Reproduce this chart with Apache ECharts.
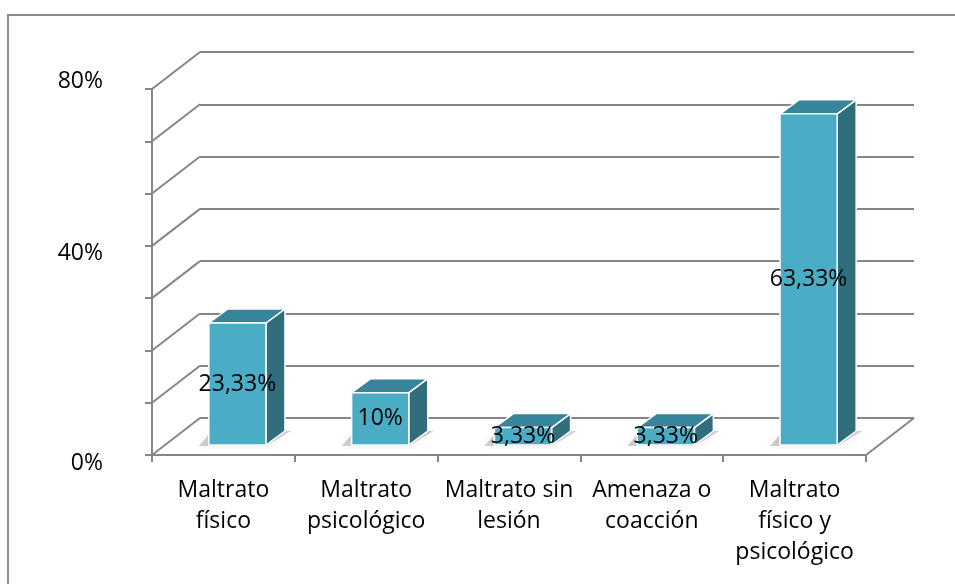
<!DOCTYPE html>
<html>
<head>
<meta charset="utf-8">
<title>Tipo de maltrato</title>
<script src="https://cdn.jsdelivr.net/npm/echarts@6/dist/echarts.min.js"></script>
<style>
html,body{margin:0;padding:0;background:#fff;}
#chart{width:955px;height:584px;}
</style>
</head>
<body>
<div id="chart"></div>
<script>
// datos del grafico
var categories = ['Maltrato\nfísico', 'Maltrato\npsicológico', 'Maltrato sin\nlesión', 'Amenaza o\ncoacción', 'Maltrato\nfísico y\npsicológico'];
var values = [23.33, 10, 3.33, 3.33, 63.33];
var valueLabels = ['23,33%', '10%', '3,33%', '3,33%', '63,33%'];
var yTicks = [0, 10, 20, 30, 40, 50, 60, 70];
var yLabelValues = [0, 40, 70];
var yLabelTexts = ['0%', '40%', '80%'];

// efecto 3D (pixeles)
var DEPTH = [48, -37];      // fondo de la pared
var FACE = [14, -10];       // cara frontal de la barra
var SIDE = [19, -14];       // profundidad de la barra
var BAR_RATIO = 0.40;
var GRAY = '#868686';
var FONT = '"Open Sans", "Liberation Sans", sans-serif';

var myChart = echarts.init(document.getElementById('chart'));

// lineas diagonales de la pared izquierda y del suelo
function renderDiag(params, api){
	var v = api.value(1);
	var band = api.size([1, 0])[0];
	var p = api.coord([0, v]);
	var x = p[0] - band / 2;
	var style = {stroke: GRAY, lineWidth: 2};
	var children = [{
		type: 'line',
		shape: {x1: x, y1: p[1], x2: x + DEPTH[0], y2: p[1] + DEPTH[1]},
		style: style
	}];
	if(v === 0){
		var xr = api.coord([categories.length - 1, 0])[0] + band / 2;
		children.push({
			type: 'line',
			shape: {x1: xr, y1: p[1], x2: xr + DEPTH[0], y2: p[1] + DEPTH[1]},
			style: style
		});
	}
	return {type: 'group', children: children};
}

// barras 3D
function renderBar(params, api){
	var cat = api.value(0);
	var val = api.value(1);
	var band = api.size([1, 0])[0];
	var base = api.coord([cat, 0]);
	var top = api.coord([cat, val]);
	var w = band * BAR_RATIO;
	var x0 = base[0] - w / 2 + FACE[0];
	var x1 = x0 + w;
	var yb = base[1] + FACE[1];
	var yt = top[1] + FACE[1];
	var edge = {stroke: '#ffffff', lineWidth: 1.5, lineJoin: 'round'};
	return {
		type: 'group',
		children: [
			{
				type: 'polygon',
				shape: {points: [[x0 - 10, yb + 1], [x1, yb + 1], [x1 + SIDE[0] + 6, yb + SIDE[1]], [x0 + SIDE[0] - 16, yb + SIDE[1]]]},
				style: {fill: 'rgba(0,0,0,0.18)', shadowBlur: 10, shadowColor: 'rgba(0,0,0,0.35)'}
			},
			{
				type: 'polygon',
				shape: {points: [[x1, yt], [x1 + SIDE[0], yt + SIDE[1]], [x1 + SIDE[0], yb + SIDE[1]], [x1, yb]]},
				style: echarts.util.extend({fill: '#306e7e'}, edge)
			},
			{
				type: 'polygon',
				shape: {points: [[x0, yt], [x1, yt], [x1 + SIDE[0], yt + SIDE[1]], [x0 + SIDE[0], yt + SIDE[1]]]},
				style: echarts.util.extend({fill: '#36859a'}, edge)
			},
			{
				type: 'rect',
				shape: {x: x0, y: yt, width: w, height: yb - yt},
				style: echarts.util.extend({fill: '#4bacc6'}, edge)
			},
			{
				type: 'text',
				style: {
					text: valueLabels[params.dataIndex],
					x: (x0 + x1) / 2,
					y: (yt + yb) / 2,
					align: 'center',
					verticalAlign: 'middle',
					fill: '#000',
					fontSize: 23,
					fontFamily: FONT
				}
			}
		]
	};
}

var option = {
	backgroundColor: '#ffffff',
	animation: false,
	graphic: [{
		type: 'rect',
		z: -10,
		shape: {x: 8, y: 15, width: 1000, height: 1000},
		style: {fill: 'none', stroke: '#8b8b8b', lineWidth: 2}
	}],
	grid: [
		{left: 152, top: 89, width: 714, height: 366, outerBoundsMode: 'none'},
		{left: 152 + DEPTH[0], top: 89 + DEPTH[1], width: 714, height: 366, outerBoundsMode: 'none'}
	],
	xAxis: [
		{
			type: 'category',
			gridIndex: 0,
			data: categories,
			axisLine: {lineStyle: {color: GRAY, width: 2}},
			axisTick: {show: true, length: 7, lineStyle: {color: GRAY, width: 2}},
			axisLabel: {interval: 0, margin: 20, color: '#000', fontSize: 23, lineHeight: 31, fontFamily: FONT}
		},
		{
			type: 'category',
			gridIndex: 1,
			data: categories,
			show: false
		}
	],
	yAxis: [
		{
			type: 'value',
			gridIndex: 0,
			min: 0,
			max: 70,
			interval: 10,
			axisLine: {show: true, lineStyle: {color: GRAY, width: 2}},
			axisTick: {show: true, length: 7, lineStyle: {color: GRAY, width: 2}},
			splitLine: {show: false},
			axisLabel: {
				margin: 49,
				color: '#000',
				fontSize: 23,
				lineHeight: 16,
				fontFamily: FONT,
				formatter: function(v){
					var i = yLabelValues.indexOf(v);
					if(i < 0) return '';
					return v === 70 ? yLabelTexts[i] + '\n' : '\n' + yLabelTexts[i];
				}
			}
		},
		{
			type: 'value',
			gridIndex: 1,
			min: 0,
			max: 70,
			interval: 10,
			axisLine: {show: false},
			axisTick: {show: false},
			axisLabel: {show: false},
			splitLine: {show: true, lineStyle: {color: GRAY, width: 2}}
		}
	],
	series: [
		{
			type: 'custom',
			xAxisIndex: 0,
			yAxisIndex: 0,
			renderItem: renderDiag,
			data: yTicks.map(function(v){ return [0, v]; }),
			z: 1
		},
		{
			type: 'custom',
			xAxisIndex: 0,
			yAxisIndex: 0,
			renderItem: renderBar,
			data: values.map(function(v, i){ return [i, v]; }),
			z: 5
		}
	]
};

myChart.setOption(option);
</script>
</body>
</html>
